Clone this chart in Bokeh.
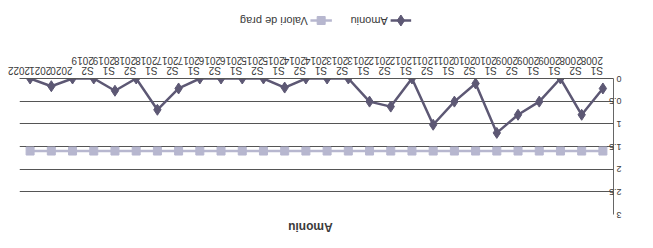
import math
from bokeh.plotting import figure
from bokeh.layouts import column
from bokeh.models import FactorRange, Range1d, FixedTicker, Label, ColumnDataSource
from bokeh.embed import file_html
from bokeh.resources import INLINE

# ---- data (chart is shown rotated 180 degrees, as in the reference) ----
periods = ["S1", "S2", "S1", "S1", "S2", "S1", "S2", "S1", "S2", "S1", "S2", "S1", "S2", "S1",
           "S2", "S1", "S2", "S1", "S2", "S1", "S2", "S1", "S2", "S1", "S2", "", "", ""]
years = ["2008", "2008", "2009", "2009", "2009", "2010", "2010", "2011", "2011", "2012", "2012",
         "2013", "2013", "2014", "2014", "2015", "2015", "2016", "2016", "2017", "2017", "2018",
         "2018", "2019", "2019", "2020", "2021", "2022"]
amoniu = [0.22, 0.80, 0.0, 0.51, 0.80, 1.20, 0.11, 0.51, 1.02, 0.0, 0.62, 0.51, 0.0, 0.0,
          0.0, 0.20, 0.0, 0.0, 0.0, 0.0, 0.22, 0.69, 0.0, 0.27, 0.0, 0.0, 0.17, 0.0]
prag = [1.6, 1.6, 1.6, 1.6, 1.6, 1.6, 1.6, 1.6, 1.6, 1.6, 1.6, 1.6, 1.6, 1.6,
        1.6, 1.6, 1.6, 1.6, 1.6, 1.6, 1.6, 1.6, 1.6, 1.6, 1.6, 1.6, 1.6, 1.6]
y_ticks = [0, 0.5, 1, 1.5, 2, 2.5, 3]
y_tick_labels = ["0", "0.5", "1", "1.5", "2", "2.5", "3"]
series_names = ["Amoniu", "Valori de prag"]
chart_title = "Amoniu"

# two-line category labels; a year-only label keeps an empty second line;
# a duplicated label gets an invisible trailing space to stay unique
labels = []
for p_, y_ in zip(periods, years):
    lab = (p_ + "\n" + y_) if p_ else (y_ + "\n ")
    while lab in labels:
        lab += " "
    labels.append(lab)

src = ColumnDataSource(dict(cat=labels, amoniu=amoniu, prag=prag))

FONT = "Liberation Sans"
TXT = "#3a3a3a"
PRAG_C = "#b7b7cf"
AMO_C = "#5d5874"
W = 637


def blank(h):
    f = figure(width=W, height=h, output_backend="svg", toolbar_location=None,
               x_range=Range1d(0, W), y_range=Range1d(h, 0),
               min_border=0, min_border_left=0, min_border_right=0,
               min_border_top=0, min_border_bottom=0)
    f.axis.visible = False
    f.grid.grid_line_color = None
    f.outline_line_color = None
    f.background_fill_color = "white"
    f.border_fill_color = "white"
    return f


# ---- legend strip (upside down) ----
top = blank(40)
LY = 20
top.line([398, 420], [LY, LY], line_color=AMO_C, line_width=2.5)
top.scatter([409], [LY], marker="diamond", size=11, fill_color=AMO_C, line_color=AMO_C)
top.line([312, 335], [LY, LY], line_color=PRAG_C, line_width=2.5)
top.scatter([323.5], [LY], marker="square", size=8, fill_color=PRAG_C, line_color=PRAG_C)
top.add_layout(Label(x=395, y=LY, text=series_names[0], angle=math.pi, text_align="left",
                     text_baseline="middle", text_font=FONT, text_font_size="11px",
                     text_color=TXT))
top.add_layout(Label(x=309, y=LY, text=series_names[1], angle=math.pi, text_align="left",
                     text_baseline="middle", text_font=FONT, text_font_size="11px",
                     text_color=TXT))

# ---- main plot (rotated view) ----
p = figure(width=W, height=180, output_backend="svg", toolbar_location=None,
           x_range=FactorRange(factors=list(reversed(labels)), range_padding=0),
           y_range=Range1d(3, 0),
           x_axis_location="above", y_axis_location="right",
           min_border_left=19, min_border_right=14, min_border_top=38, min_border_bottom=6)
p.outline_line_color = None
p.background_fill_color = "white"
p.border_fill_color = "white"

xa = p.xaxis[0]
xa.major_label_orientation = math.pi
xa.major_tick_line_color = None
xa.major_tick_out = 0
xa.major_tick_in = 0
xa.minor_tick_line_color = None
xa.axis_line_color = "#555555"
xa.major_label_text_font = FONT
xa.major_label_text_font_size = "10px"
xa.major_label_text_line_height = 0.9
xa.major_label_text_color = TXT
xa.major_label_standoff = 13
xa.group_text_alpha = 0

ya = p.yaxis[0]
ya.ticker = FixedTicker(ticks=y_ticks)
ya.major_label_overrides = dict(zip(y_ticks, y_tick_labels))
ya.major_label_orientation = math.pi
ya.major_tick_line_color = None
ya.major_tick_out = 0
ya.major_tick_in = 0
ya.minor_tick_line_color = None
ya.axis_line_color = "#666666"
ya.major_label_text_font = FONT
ya.major_label_text_font_size = "9px"
ya.major_label_text_color = TXT
ya.major_label_standoff = 8

p.xgrid.grid_line_color = None
p.ygrid.ticker = FixedTicker(ticks=y_ticks)
p.ygrid.grid_line_color = "#555555"
p.ygrid.grid_line_width = 1

p.line("cat", "prag", source=src, line_color=PRAG_C, line_width=2.5)
p.scatter("cat", "prag", source=src, marker="square", size=8, fill_color=PRAG_C, line_color=PRAG_C)
p.line("cat", "amoniu", source=src, line_color=AMO_C, line_width=2.5)
p.scatter("cat", "amoniu", source=src, marker="diamond", size=11, fill_color=AMO_C, line_color=AMO_C)

# ---- title strip (upside down) ----
bot = blank(12)
bot.add_layout(Label(x=312, y=6, text=chart_title, angle=math.pi, text_align="center",
                     text_baseline="middle", text_font=FONT, text_font_size="12px",
                     text_font_style="bold", text_color=TXT))

layout = column(top, p, bot, spacing=0)
open("out.html", "w").write(file_html(layout, INLINE))
